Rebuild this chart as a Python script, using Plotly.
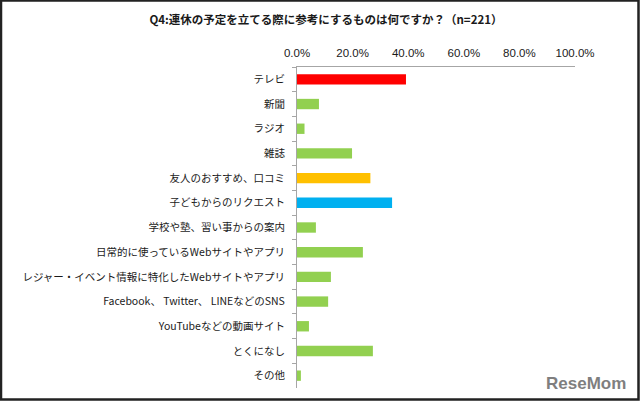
import plotly.graph_objects as go

categories = [
    "テレビ", "新聞", "ラジオ", "雑誌", "友人のおすすめ、口コミ",
    "子どもからのリクエスト", "学校や塾、習い事からの案内",
    "日常的に使っているWebサイトやアプリ",
    "レジャー・イベント情報に特化したWebサイトやアプリ",
    "Facebook、 Twitter、 LINEなどのSNS",
    "YouTubeなどの動画サイト", "とくになし", "その他",
]
values = [39.2, 7.9, 2.7, 19.8, 26.4, 34.2, 6.8, 23.7, 12.2, 11.2, 4.3, 27.3, 1.4]
colors = ["#FF0000", "#92D050", "#92D050", "#92D050", "#FFC000", "#00B0F0",
          "#92D050", "#92D050", "#92D050", "#92D050", "#92D050", "#92D050", "#92D050"]
x_ticks = [0, 20, 40, 60, 80, 100]
title_text = "Q4:連休の予定を立てる際に参考にするものは何ですか？（n=221）"

W, H = 640, 401
ml, mr, mt, mb = 297, 65, 67, 13
pw, ph = W - ml - mr, H - mt - mb

fig = go.Figure(go.Bar(
    x=values, y=categories, orientation="h",
    marker=dict(color=colors, line=dict(width=0)),
    hoverinfo="x+y",
))

fig.update_layout(
    width=W, height=H,
    margin=dict(l=ml, r=mr, t=mt, b=mb, pad=0),
    paper_bgcolor="white", plot_bgcolor="white",
    bargap=0.58,
    showlegend=False,
    font=dict(family="Noto Sans CJK JP", size=10.5, color="#1a1a1a"),
    title=dict(text="<b>" + title_text + "</b>", x=326 / W, xanchor="center",
               y=1 - 20 / H, yanchor="middle",
               font=dict(family="Noto Sans CJK JP", size=11.5, color="#1a1a1a")),
    xaxis=dict(
        side="top", range=[0, 100], tickvals=x_ticks,
        ticktext=[f"{v:.1f}%" for v in x_ticks],
        showgrid=False, zeroline=False,
        showline=True, linecolor="#a6a6a6", linewidth=1,
        ticks="", tickfont=dict(family="Liberation Sans", size=11.5, color="#1a1a1a"),
        ticklabelstandoff=4, fixedrange=True,
    ),
    yaxis=dict(
        autorange="reversed", showgrid=False, zeroline=False,
        showline=True, linecolor="#a6a6a6", linewidth=1,
        ticks="outside", ticklen=4, tickcolor="#a6a6a6", tickson="boundaries",
        tickfont=dict(family="Noto Sans CJK JP", size=10.5, color="#1a1a1a"),
        ticklabelstandoff=9, fixedrange=True,
    ),
)

# outer border of the whole picture
fig.add_shape(type="rect", xref="paper", yref="paper",
              x0=(-ml + 1) / pw, x1=(pw + mr - 1.5) / pw,
              y0=(-mb + 1.5) / ph, y1=(ph + mt - 0.5) / ph,
              line=dict(color="#222222", width=2.5), fillcolor="rgba(0,0,0,0)")

# watermark
fig.add_annotation(text="<b>ReseMom</b>", xref="paper", yref="paper",
                   x=(586 - ml) / pw, y=(H - 383 - mb) / ph,
                   xanchor="center", yanchor="middle", showarrow=False,
                   font=dict(family="Liberation Sans", size=17, color="#7f7f7f"))

fig.write_html("out.html")
